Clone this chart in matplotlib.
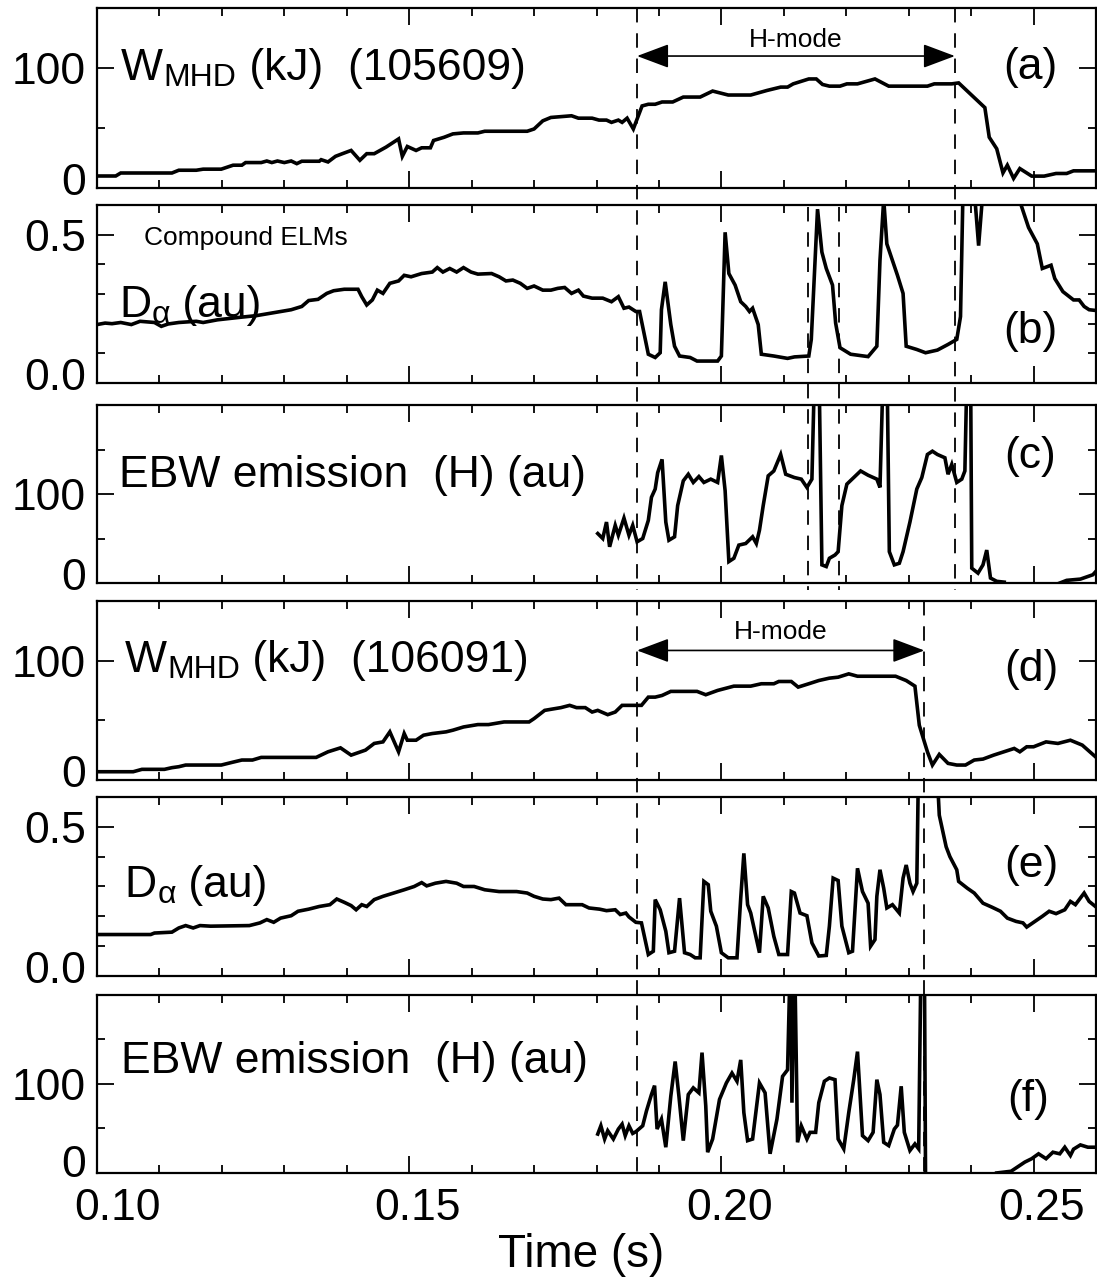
import matplotlib
matplotlib.use('Agg')
import matplotlib.pyplot as plt
import numpy as np
from matplotlib import transforms
from matplotlib.lines import Line2D
from matplotlib.patches import ArrowStyle
from matplotlib.ticker import MultipleLocator, FixedLocator

plt.rcParams['font.family'] = ['Liberation Sans', 'DejaVu Sans']

# ---- shot 105609 ----
wmhd1_t = [0.1000, 0.1030, 0.1038, 0.1120, 0.1131, 0.1159, 0.1170, 0.1199, 0.1218, 0.1232,
           0.1238, 0.1263, 0.1272, 0.1280, 0.1289, 0.1300, 0.1311, 0.1320, 0.1328, 0.1356,
           0.1359, 0.1370, 0.1382, 0.1393, 0.1407, 0.1421, 0.1432, 0.1444, 0.1463, 0.1483,
           0.1489, 0.1497, 0.1511, 0.1520, 0.1534, 0.1539, 0.1556, 0.1570, 0.1587, 0.1610,
           0.1621, 0.1689, 0.1700, 0.1714, 0.1727,
           0.1760, 0.1771, 0.1793, 0.1804, 0.1816, 0.1824, 0.1835, 0.1841, 0.1849, 0.1859,
           0.1873, 0.1883, 0.1894, 0.1905, 0.1922, 0.1939, 0.1966, 0.1986, 0.2011, 0.2047,
           0.2073, 0.2095, 0.2106, 0.2115, 0.2140, 0.2152, 0.2162, 0.2173, 0.2190, 0.2201,
           0.2218, 0.2246, 0.2268, 0.2330, 0.2341, 0.2369, 0.2380, 0.2422, 0.2429, 0.2441,
           0.2451, 0.2458, 0.2468, 0.2478, 0.2497, 0.2517, 0.2536, 0.2553, 0.2564, 0.2602]
wmhd1 = [10, 10, 12.5, 12.5, 14.8, 14.8, 15.7, 15.7, 19, 19,
         21.2, 21.2, 22.5, 21.2, 22.5, 21.2, 22.5, 20.3, 22.3, 22.3,
         23.6, 21.7, 26.4, 28.6, 31.3, 23.1, 28.6, 28.6, 34.1, 40.9,
         26.4, 34.6, 31.3, 33.5, 33.5, 39.6, 42.3, 45.1, 45.9, 45.9,
         47.3, 47.3, 49.2, 56, 58.8,
         60.2, 58.2, 58.2, 56.6, 56.6, 54.7, 56.6, 54.7, 58.2, 49.2,
         68.4, 69.8, 69.8, 71.7, 71.7, 75.8, 75.8, 80.8, 77.5, 77.5,
         81.3, 84.1, 84.1, 86.8, 90.9, 90.9, 86.3, 84.9, 84.9, 86.8,
         86.8, 90.9, 84.9, 84.9, 86.8, 86.8, 87.6, 67, 42.3, 32.7,
         12.6, 19, 8, 16.2, 9.9, 9.9, 12.1, 12.1, 14.3, 14.3]

dalpha1_t = [0.1000, 0.1013, 0.1024, 0.1038, 0.1055, 0.1069, 0.1092, 0.1103, 0.1114, 0.1131,
             0.1159, 0.1170, 0.1193, 0.1227, 0.1255, 0.1272, 0.1294, 0.1311, 0.1328, 0.1339,
             0.1354, 0.1368, 0.1379, 0.1396, 0.1418, 0.1424, 0.1432, 0.1441, 0.1449, 0.1458,
             0.1469, 0.1483, 0.1492, 0.1503, 0.1520, 0.1537, 0.1545, 0.1554, 0.1565, 0.1576,
             0.1587, 0.1599, 0.1610, 0.1632, 0.1644, 0.1655, 0.1666, 0.1678, 0.1689, 0.1700,
             0.1714, 0.1727,
             0.1738, 0.1749, 0.1754, 0.1760, 0.1771, 0.1779, 0.1793, 0.1810, 0.1824, 0.1835,
             0.1844, 0.1852, 0.1863, 0.1869, 0.1877, 0.1883, 0.1894, 0.1902, 0.1904, 0.1910,
             0.1919, 0.1925, 0.1933, 0.1950, 0.1961, 0.1994, 0.2000, 0.2006, 0.2012, 0.2022,
             0.2031, 0.2039, 0.2045, 0.2050, 0.2059, 0.2064, 0.2084, 0.2106, 0.2117, 0.2140,
             0.2144, 0.2154, 0.2161, 0.2168, 0.2178, 0.2183, 0.2190, 0.2207, 0.2235, 0.2249,
             0.2254, 0.2260, 0.2265, 0.2282, 0.2291, 0.2296, 0.2313, 0.2327, 0.2346, 0.2363,
             0.2377, 0.2383, 0.2387, 0.2397, 0.2405, 0.2412, 0.2419, 0.2430, 0.2475, 0.2480,
             0.2492, 0.2506, 0.2514, 0.2528, 0.2534, 0.2547, 0.2564, 0.2573, 0.2581, 0.2589,
             0.2602]
dalpha1 = [0.197, 0.202, 0.200, 0.204, 0.197, 0.208, 0.204, 0.191, 0.199, 0.204,
           0.208, 0.204, 0.213, 0.221, 0.227, 0.233, 0.241, 0.247, 0.258, 0.278,
           0.282, 0.302, 0.311, 0.316, 0.316, 0.291, 0.263, 0.280, 0.313, 0.302,
           0.336, 0.344, 0.363, 0.358, 0.369, 0.374, 0.389, 0.374, 0.386, 0.374,
           0.389, 0.374, 0.367, 0.369, 0.358, 0.344, 0.347, 0.336, 0.319, 0.327,
           0.313, 0.313,
           0.319, 0.322, 0.313, 0.302, 0.313, 0.293, 0.286, 0.286, 0.274, 0.291,
           0.252, 0.256, 0.241, 0.241, 0.158, 0.097, 0.086, 0.102, 0.247, 0.341,
           0.197, 0.124, 0.091, 0.086, 0.074, 0.074, 0.091, 0.508, 0.369, 0.330,
           0.274, 0.258, 0.241, 0.252, 0.197, 0.097, 0.091, 0.083, 0.088, 0.091,
           0.147, 0.586, 0.441, 0.386, 0.330, 0.202, 0.119, 0.097, 0.089, 0.124,
           0.413, 0.62, 0.469, 0.363, 0.302, 0.124, 0.113, 0.102, 0.111, 0.130,
           0.147, 0.224, 0.65, 0.8, 0.65, 0.463, 0.65, 0.8, 0.8, 0.6,
           0.524, 0.469, 0.386, 0.397, 0.352, 0.308, 0.280, 0.280, 0.258, 0.247,
           0.244]

ebw1_t = [0.1802, 0.1810, 0.1816, 0.1821, 0.1830, 0.1835, 0.1844, 0.1852, 0.1858, 0.1865,
          0.1874, 0.1883, 0.1888, 0.1894, 0.1898, 0.1905, 0.1911, 0.1916, 0.1925, 0.1930,
          0.1939, 0.1947, 0.1955, 0.1964, 0.1972, 0.1983, 0.1994, 0.2000, 0.2006, 0.2012,
          0.2020, 0.2028, 0.2039, 0.2050, 0.2056, 0.2061, 0.2067, 0.2075, 0.2084, 0.2095,
          0.2103, 0.2117, 0.2128, 0.2137, 0.2145, 0.2150, 0.2156, 0.2161, 0.2168, 0.2173,
          0.2182, 0.2187, 0.2193, 0.2201, 0.2212, 0.2223, 0.2235, 0.2249, 0.2254, 0.2260,
          0.2265, 0.2269, 0.2277, 0.2285, 0.2291, 0.2302, 0.2313, 0.2321, 0.2330, 0.2338,
          0.2346, 0.2358, 0.2363, 0.2369, 0.2377, 0.2385, 0.2390, 0.2394, 0.2399, 0.2401,
          0.2411, 0.2419, 0.2425, 0.2431, 0.2441, 0.2453, 0.2455,
          0.2542, 0.2553, 0.2575, 0.2595, 0.2602]
ebw1 = [55.6, 50, 68.5, 40.7, 64.8, 53.7, 73, 53.7, 64.8, 46.3,
        50, 70.4, 96.3, 105.6, 124, 138.9, 68.5, 48.1, 51.9, 87,
        114.8, 122.2, 113, 119.6, 113, 116.7, 113, 143.3, 103.7, 24.1,
        27.8, 42.6, 44.4, 51.9, 44.4, 59.3, 87, 120.4, 125.9, 144.4,
        122.2, 118.5, 116.7, 107.4, 116.7, 260, 260, 20.4, 18.5, 27.8,
        31.5, 35.2, 87, 111.1, 118.5, 125.9, 121.1, 116.7, 107.4, 260,
        260, 35.2, 20.4, 22.2, 35.2, 68.5, 105.6, 118.5, 144.4, 148.1,
        144.4, 140.7, 122.2, 133.3, 113, 116.7, 125.9, 260, 260, 16.7,
        11.1, 20.4, 37, 5.6, 1.9, 1, np.nan,
        0, 3, 4.4, 9.3, 14.8]

# ---- shot 106091 ----
wmhd2_t = [0.1000, 0.1058, 0.1072, 0.1108, 0.1120, 0.1131, 0.1142, 0.1199, 0.1216, 0.1232,
           0.1249, 0.1263, 0.1351, 0.1370, 0.1390, 0.1407, 0.1430, 0.1444, 0.1458, 0.1469,
           0.1483, 0.1492, 0.1497, 0.1511, 0.1523, 0.1537, 0.1559, 0.1570, 0.1587, 0.1610,
           0.1627, 0.1652, 0.1692, 0.1700, 0.1717, 0.1727,
           0.1743, 0.1757, 0.1768, 0.1782, 0.1793, 0.1802, 0.1818, 0.1830, 0.1841, 0.1872,
           0.1883, 0.1894, 0.1905, 0.1919, 0.1961, 0.1975, 0.1994, 0.2020, 0.2047, 0.2064,
           0.2084, 0.2092, 0.2112, 0.2123, 0.2140, 0.2156, 0.2173, 0.2187, 0.2204, 0.2218,
           0.2279, 0.2296, 0.2310, 0.2317, 0.2330, 0.2338, 0.2349, 0.2363, 0.2377, 0.2391,
           0.2405, 0.2419, 0.2436, 0.2469, 0.2478, 0.2489, 0.2500, 0.2520, 0.2539, 0.2559,
           0.2578, 0.2602]
wmhd2 = [6.9, 6.9, 8.9, 8.9, 10.3, 11.1, 12.5, 12.5, 14.7, 16.7,
         16.7, 18.9, 18.9, 23.6, 26.9, 20.8, 25, 30.6, 31.9, 40.3,
         23.6, 38.9, 33.3, 33.3, 37.5, 38.9, 40.3, 41.7, 44.4, 46.4,
         46.4, 48.6, 48.6, 51.4, 58.3, 59.2,
         60.6, 62.5, 60.6, 60.6, 56.9, 58.3, 54.7, 56.9, 62.5, 62.5,
         69.4, 69.4, 70.8, 74.2, 74.2, 71.4, 75, 78.6, 78.6, 80.6,
         80.6, 82.5, 82.5, 77.8, 80.6, 83.3, 85.3, 86.1, 88.9, 86.9,
         86.9, 83.3, 78.6, 45.8, 23.6, 12.5, 21.4, 13.9, 12.5, 12.5,
         16.7, 17.5, 20.8, 26.4, 23.6, 27.8, 27.8, 31.9, 30.6, 33.3,
         29.2, 18.1]

dalpha2_t = [0.1000, 0.1086, 0.1092, 0.1120, 0.1131, 0.1142, 0.1154, 0.1165, 0.1182, 0.1244,
             0.1261, 0.1272, 0.1283, 0.1294, 0.1311, 0.1322, 0.1339, 0.1356, 0.1373, 0.1384,
             0.1396, 0.1407, 0.1415, 0.1424, 0.1432, 0.1444, 0.1458, 0.1475, 0.1492, 0.1508,
             0.1520, 0.1528, 0.1542, 0.1559, 0.1576, 0.1587, 0.1604, 0.1621, 0.1644, 0.1672,
             0.1689, 0.1700, 0.1714, 0.1727,
             0.1740, 0.1751, 0.1777, 0.1788, 0.1805, 0.1816, 0.1830, 0.1838, 0.1847, 0.1852,
             0.1863, 0.1872, 0.1883, 0.1891, 0.1894, 0.1902, 0.1911, 0.1916, 0.1925, 0.1933,
             0.1941, 0.1950, 0.1958, 0.1966, 0.1972, 0.1979, 0.1983, 0.1992, 0.2000, 0.2011,
             0.2025, 0.2031, 0.2036, 0.2042, 0.2047, 0.2061, 0.2067, 0.2075, 0.2084, 0.2092,
             0.2106, 0.2112, 0.2117, 0.2126, 0.2137, 0.2145, 0.2156, 0.2168, 0.2173, 0.2179,
             0.2187, 0.2193, 0.2204, 0.2210, 0.2218, 0.2226, 0.2235, 0.2239, 0.2246, 0.2249,
             0.2254, 0.2260, 0.2265, 0.2274, 0.2285, 0.2291, 0.2296, 0.2302, 0.2307, 0.2313,
             0.2316, 0.2344, 0.2349, 0.2360, 0.2366, 0.2377, 0.2380, 0.2394, 0.2405, 0.2419,
             0.2433, 0.2447, 0.2458, 0.2472, 0.2483, 0.2489, 0.2500, 0.2514, 0.2525, 0.2536,
             0.2550, 0.2559, 0.2567, 0.2581, 0.2589, 0.2602]
dalpha2 = [0.139, 0.139, 0.144, 0.147, 0.161, 0.169, 0.161, 0.169, 0.167, 0.169,
           0.178, 0.189, 0.180, 0.194, 0.202, 0.217, 0.224, 0.233, 0.239, 0.258,
           0.247, 0.236, 0.222, 0.239, 0.233, 0.256, 0.267, 0.278, 0.289, 0.300,
           0.313, 0.302, 0.311, 0.317, 0.311, 0.300, 0.300, 0.289, 0.283, 0.283,
           0.278, 0.267, 0.258, 0.256,
           0.261, 0.239, 0.239, 0.228, 0.224, 0.219, 0.222, 0.206, 0.211, 0.198,
           0.180, 0.178, 0.072, 0.083, 0.256, 0.222, 0.150, 0.078, 0.083, 0.261,
           0.078, 0.072, 0.061, 0.061, 0.317, 0.306, 0.217, 0.167, 0.078, 0.061,
           0.061, 0.261, 0.411, 0.239, 0.211, 0.078, 0.267, 0.228, 0.133, 0.072,
           0.072, 0.283, 0.278, 0.211, 0.202, 0.111, 0.067, 0.069, 0.167, 0.328,
           0.320, 0.167, 0.078, 0.083, 0.361, 0.283, 0.244, 0.100, 0.122, 0.267,
           0.356, 0.294, 0.228, 0.239, 0.211, 0.328, 0.372, 0.311, 0.283, 0.311,
           0.75, 0.75, 0.539, 0.433, 0.400, 0.356, 0.317, 0.294, 0.278, 0.244,
           0.231, 0.217, 0.194, 0.183, 0.178, 0.164, 0.180, 0.200, 0.217, 0.209,
           0.222, 0.250, 0.239, 0.278, 0.250, 0.228]

ebw2_t = [0.1802, 0.1807, 0.1813, 0.1818, 0.1827, 0.1835, 0.1841, 0.1846, 0.1852, 0.1858,
          0.1863, 0.1874, 0.1880, 0.1888, 0.1893, 0.1897, 0.1904, 0.1911, 0.1919, 0.1926,
          0.1932, 0.1939, 0.1947, 0.1955, 0.1964, 0.1969, 0.1975, 0.1978, 0.1986, 0.1997,
          0.2008, 0.2017, 0.2025, 0.2031, 0.2036, 0.2042, 0.2050, 0.2061, 0.2070, 0.2078,
          0.2089, 0.2098, 0.2106, 0.2111, 0.2113, 0.2117, 0.2122, 0.2128, 0.2137, 0.2142,
          0.2151, 0.2156, 0.2165, 0.2173, 0.2182, 0.2187, 0.2196, 0.2204, 0.2212, 0.2218,
          0.2226, 0.2235, 0.2243, 0.2249, 0.2254, 0.2260, 0.2268, 0.2277, 0.2282, 0.2288,
          0.2293, 0.2302, 0.2310, 0.2316, 0.2320, 0.2325, 0.2327, 0.2330, 0.2441, 0.2464,
          0.2486, 0.2497, 0.2508, 0.2520, 0.2531, 0.2542, 0.2550, 0.2559, 0.2564, 0.2575,
          0.2587, 0.2602]
ebw2 = [43.7, 53, 38.1, 47.4, 38.1, 49.3, 54.8, 41.9, 53, 44.4,
        46.3, 53, 69.6, 88.1, 98.1, 49.3, 60.4, 28.9, 86.3, 125.2,
        86.3, 36.3, 88.1, 95.6, 90, 135.2, 75.2, 23.3, 38.1, 82.6,
        101.1, 112.2, 103, 127, 67.8, 36.3, 38.1, 101.1, 90, 21.5,
        60.4, 108.5, 115.9, 260, 78.9, 260, 34.4, 52.9, 38.1, 45.6,
        45.6, 78.9, 103, 106.7, 104.8, 38.1, 27, 67.8, 104.8, 136.3,
        41.9, 36.3, 45.6, 104.8, 88.1, 34.4, 30.7, 49.3, 53.7, 97.4,
        45.6, 25.2, 32.6, 27, 260, 260, -5, np.nan, 0, 1.9,
        12.2, 16, 21.5, 16, 23.3, 21.5, 28.9, 19.6, 26.7, 31.5,
        28.9, 28.9]

# event times (s)
lh1, hl1 = 0.1865, 0.2374
elm_lines = [0.2139, 0.2189]
lh2, hl2 = 0.1865, 0.2325

xticks = [0.10, 0.15, 0.20, 0.25]
xticklabels = ['0.10', '0.15', '0.20', '0.25']

BIG = 32
SMALL = 19

fig = plt.figure(figsize=(10.97, 12.78), dpi=100)
left, width = 97 / 1097, 999 / 1097
boxes = [(0.8529, 0.1408), (0.7003, 0.1393), (0.5438, 0.1393),
         (0.3897, 0.1401), (0.2363, 0.1401), (0.0822, 0.1393)]
axes = [fig.add_axes([left, b, width, h]) for b, h in boxes]

series = [(wmhd1_t, wmhd1), (dalpha1_t, dalpha1), (ebw1_t, ebw1),
          (wmhd2_t, wmhd2), (dalpha2_t, dalpha2), (ebw2_t, ebw2)]
ylims = [150, 0.6, 200, 150, 0.6, 200]


def shift(label, dx, dy):
    label.set_transform(label.get_transform() +
                        transforms.ScaledTranslation(dx / 100, dy / 100, fig.dpi_scale_trans))


for i, ax in enumerate(axes):
    t, v = series[i]
    ax.plot(t, v, color='k', lw=2.6, solid_joinstyle='miter')
    ax.set_xlim(0.10, 0.26)
    ax.set_ylim(0, ylims[i])
    ax.set_xticks(xticks)
    ax.set_xticklabels(xticklabels)
    ax.xaxis.set_minor_locator(MultipleLocator(0.01))
    if ylims[i] == 0.6:
        ax.set_yticks([0, 0.5])
        ax.set_yticklabels(['0.0', '0.5'])
        ax.yaxis.set_minor_locator(FixedLocator([0.1, 0.2, 0.3, 0.4, 0.6]))
    else:
        ax.set_yticks([0, 100])
        ax.set_yticklabels(['0', '100'])
        ax.yaxis.set_minor_locator(FixedLocator([50, 150]))
    ax.tick_params(which='both', direction='in', top=True, right=True, width=1.3,
                   labelsize=BIG, pad=8)
    ax.tick_params(which='major', length=12)
    ax.tick_params(which='minor', length=6)
    ax.tick_params(axis='x', labelbottom=(i == 5), pad=11)
    for s in ax.spines.values():
        s.set_linewidth(1.6)
    shift(ax.yaxis.get_major_ticks()[0].label1, 0, 12 if i == 5 else 9)

# x tick labels a bit to the right, as in the original
xt = axes[5].xaxis.get_major_ticks()
for k, tk in enumerate(xt):
    shift(tk.label1, 21 if k == 0 else 8, 0)

fig.text(581 / 1097, 1 - 1267 / 1278, 'Time (s)', fontsize=33, ha='center', va='baseline')


def sub_text(ax, x, y, main, sub, rest):
    t1 = ax.text(x, y, main, transform=ax.transAxes, fontsize=BIG, va='baseline')
    t2 = ax.annotate(sub, xy=(1, 0), xycoords=t1, xytext=(0.5, -3),
                     textcoords='offset points', fontsize=BIG * 0.72, va='bottom')
    ax.annotate(rest, xy=(1, 0), xycoords=(t2, t1), fontsize=BIG, va='bottom')


sub_text(axes[0], 0.024, 0.60, 'W', 'MHD', ' (kJ)  (105609)')
sub_text(axes[3], 0.0275, 0.603, 'W', 'MHD', ' (kJ)  (106091)')
sub_text(axes[1], 0.022, 0.371, 'D', '\u03b1', ' (au)')
sub_text(axes[4], 0.0275, 0.441, 'D', '\u03b1', ' (au)')
axes[2].text(0.022, 0.54, 'EBW emission  (H) (au)', transform=axes[2].transAxes,
             fontsize=BIG, va='baseline')
axes[5].text(0.024, 0.562, 'EBW emission  (H) (au)', transform=axes[5].transAxes,
             fontsize=BIG, va='baseline')
axes[1].text(0.047, 0.815, 'Compound ELMs', transform=axes[1].transAxes,
             fontsize=SMALL, va='center')

panel_pos = [(0.934, 0.672), (0.934, 0.29), (0.934, 0.708),
             (0.935, 0.615), (0.935, 0.615), (0.932, 0.41)]
for ax, lab, (px, py) in zip(axes, 'abcdef', panel_pos):
    ax.text(px, py, '(%s)' % lab, transform=ax.transAxes, fontsize=BIG,
            ha='center', va='center')

# H-mode arrows
astyle = ArrowStyle('<|-|>', head_length=0.8, head_width=0.3)
for ax, t0, t1, ya, yt in [(axes[0], lh1, hl1, 110, 123), (axes[3], lh2, hl2, 108.5, 124)]:
    ax.annotate('', xy=(t1, ya), xytext=(t0, ya),
                arrowprops=dict(arrowstyle=astyle, mutation_scale=25, lw=1.2,
                                color='k', shrinkA=0, shrinkB=0))
    ax.text((t0 + t1) / 2, yt, 'H-mode', fontsize=SMALL, ha='center', va='center')

# dashed event lines running through the stacked panels
dash = (0, (8, 6))
tr = transforms.blended_transform_factory(axes[0].transData, fig.transFigure)
for t in [lh1, hl1]:
    fig.add_artist(Line2D([t, t], [1 - 8 / 1278, 1 - 590 / 1278], transform=tr,
                          color='k', lw=1.3, linestyle=dash))
for t in elm_lines:
    fig.add_artist(Line2D([t, t], [1 - 207 / 1278, 1 - 590 / 1278], transform=tr,
                          color='k', lw=1.3, linestyle=dash))
for t in [lh2, hl2]:
    fig.add_artist(Line2D([t, t], [1 - 601 / 1278, 1 - 1180 / 1278], transform=tr,
                          color='k', lw=1.3, linestyle=dash))

fig.savefig('out.png', dpi=100)
